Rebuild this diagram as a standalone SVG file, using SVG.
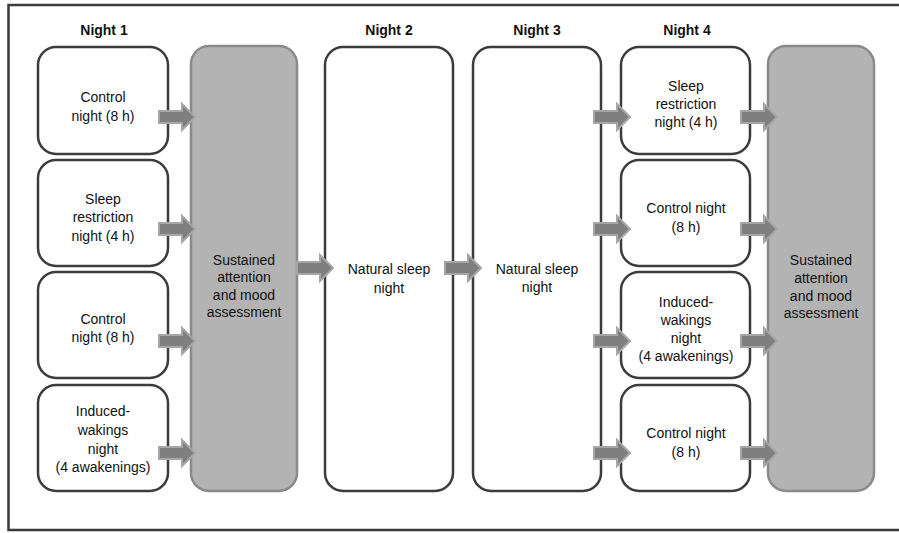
<svg xmlns="http://www.w3.org/2000/svg" width="899" height="533" viewBox="0 0 899 533">
<defs>
<style>
.frame{fill:none;stroke:#3a3a3a;stroke-width:2.5}
.box{fill:#fff;stroke:#3c3c3c;stroke-width:2.5}
.grey{fill:#b3b3b3;stroke:#8a8a8a;stroke-width:2.5}
.t{font-family:"Liberation Sans",Arial,sans-serif;font-size:14px;fill:#111;text-anchor:middle}
.h{font-family:"Liberation Sans",Arial,sans-serif;font-size:14px;font-weight:bold;fill:#111;text-anchor:middle}
.arr{fill:#7f7f7f;stroke:#a6a6a6;stroke-width:2}
</style>
<path id="ar" class="arr" d="M0,-6 H23 V-13 L36,0 L23,13 V6 H0 Z"/>
</defs>
<rect width="899" height="533" fill="#fff"/>
<path class="frame" d="M902,5 H8.5 V530 H902"/>

<text class="h" x="104" y="35">Night 1</text>
<text class="h" x="389" y="35">Night 2</text>
<text class="h" x="537" y="35">Night 3</text>
<text class="h" x="687" y="35">Night 4</text>

<g id="n1a"><rect class="box" x="38" y="47" width="130" height="107" rx="18"/>
<text class="t" x="103" y="102">Control</text><text class="t" x="103" y="121">night (8 h)</text></g>
<g id="n1b"><rect class="box" x="38" y="160" width="130" height="106" rx="18"/>
<text class="t" x="103" y="204">Sleep</text><text class="t" x="103" y="222">restriction</text><text class="t" x="103" y="241">night (4 h)</text></g>
<g id="n1c"><rect class="box" x="38" y="272" width="130" height="106" rx="18"/>
<text class="t" x="103" y="324">Control</text><text class="t" x="103" y="342">night (8 h)</text></g>
<g id="n1d"><rect class="box" x="38" y="385" width="130" height="106" rx="18"/>
<text class="t" x="103" y="416">Induced-</text><text class="t" x="103" y="435">wakings</text><text class="t" x="103" y="454">night</text><text class="t" x="103" y="472">(4 awakenings)</text></g>

<g id="assess1"><rect class="grey" x="191" y="46" width="106" height="445" rx="18"/>
<text class="t" x="244" y="265">Sustained</text><text class="t" x="244" y="282">attention</text><text class="t" x="244" y="300">and mood</text><text class="t" x="244" y="317">assessment</text></g>

<g id="n2"><rect class="box" x="325" y="47" width="128" height="444" rx="18"/>
<text class="t" x="389" y="274">Natural sleep</text><text class="t" x="389" y="293">night</text></g>

<g id="n3"><rect class="box" x="473" y="47" width="128" height="444" rx="18"/>
<text class="t" x="537" y="274">Natural sleep</text><text class="t" x="537" y="292">night</text></g>

<g id="n4a"><rect class="box" x="621" y="47" width="129" height="107" rx="18"/>
<text class="t" x="686" y="91">Sleep</text><text class="t" x="686" y="109">restriction</text><text class="t" x="686" y="127">night (4 h)</text></g>
<g id="n4b"><rect class="box" x="621" y="160" width="129" height="106" rx="18"/>
<text class="t" x="686" y="213">Control night</text><text class="t" x="686" y="232">(8 h)</text></g>
<g id="n4c"><rect class="box" x="621" y="272" width="129" height="106" rx="18"/>
<text class="t" x="686" y="307">Induced-</text><text class="t" x="686" y="325">wakings</text><text class="t" x="686" y="343">night</text><text class="t" x="686" y="361">(4 awakenings)</text></g>
<g id="n4d"><rect class="box" x="621" y="385" width="129" height="106" rx="18"/>
<text class="t" x="686" y="438">Control night</text><text class="t" x="686" y="457">(8 h)</text></g>

<g id="assess2"><rect class="grey" x="768" y="46" width="106" height="445" rx="18"/>
<text class="t" x="821" y="265">Sustained</text><text class="t" x="821" y="283">attention</text><text class="t" x="821" y="301">and mood</text><text class="t" x="821" y="318">assessment</text></g>

<g id="connectors">
<use href="#ar" x="159" y="117"/>
<use href="#ar" x="159" y="229"/>
<use href="#ar" x="159" y="341"/>
<use href="#ar" x="159" y="453"/>
<use href="#ar" x="297" y="268"/>
<use href="#ar" x="445" y="268"/>
<use href="#ar" x="594" y="117"/>
<use href="#ar" x="594" y="229"/>
<use href="#ar" x="594" y="341"/>
<use href="#ar" x="594" y="453"/>
<use href="#ar" x="741" y="117"/>
<use href="#ar" x="741" y="229"/>
<use href="#ar" x="741" y="341"/>
<use href="#ar" x="741" y="453"/>
</g>
</svg>
